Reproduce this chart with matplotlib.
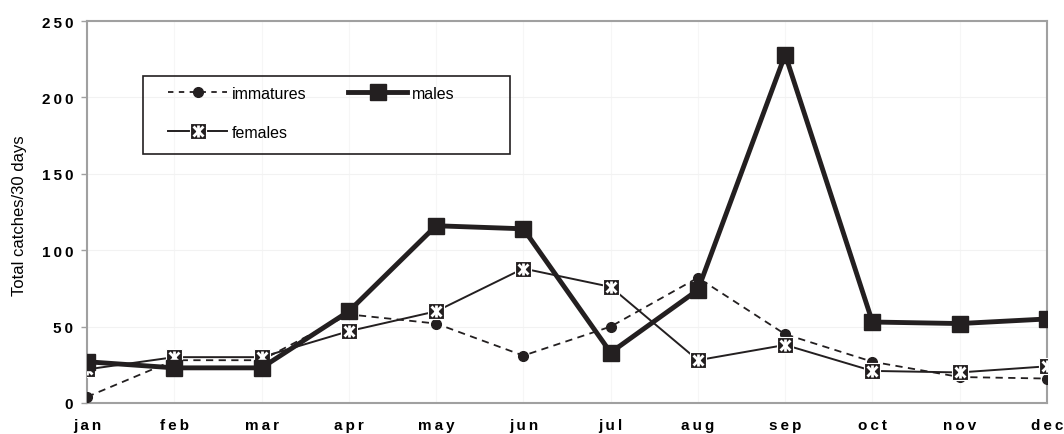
import numpy as np
import matplotlib.pyplot as plt
from matplotlib.lines import Line2D
from matplotlib.patches import Rectangle

# datos
months = ["jan", "feb", "mar", "apr", "may", "jun", "jul", "aug", "sep", "oct", "nov", "dec"]
immatures = [4, 28, 28, 58, 52, 31, 50, 82, 45, 27, 17, 16]
males = [27, 23, 23, 60, 116, 114, 33, 74, 228, 53, 52, 55]
females = [22, 30, 30, 47, 60, 88, 76, 28, 38, 21, 20, 24]
yticks = [0, 50, 100, 150, 200, 250]

ink = "#231f20"
plt.rcParams['font.family'] = ['Liberation Sans', 'DejaVu Sans']

def spaced(s):
    # espaciado entre letras como en la figura original
    return "\u2009".join(s)

fig = plt.figure(figsize=(10.64, 4.35), dpi=100)
ax = fig.add_axes([87/1064, 1-404/435, (1047-87)/1064, (404-22)/435])

x = np.arange(len(months))

ax.plot(x, immatures, ls=(0, (4, 3)), lw=1.3, color=ink, marker="o", ms=7, zorder=3)
ax.plot(x, females, ls="-", lw=1.4, color=ink, marker="s", ms=11, mfc=ink, mec="white", mew=0.8, zorder=4)
ax.plot(x, females, ls="none", marker="x", ms=7, mew=2, color="white", zorder=5)
ax.plot(x, females, ls="none", marker="|", ms=8, mew=2, color="white", zorder=5)
ax.plot(x, males, ls="-", lw=3.5, color=ink, marker="s", ms=12, zorder=6)

ax.set_xlim(0, 11)
ax.set_ylim(0, 250)
ax.set_yticks(yticks)
ax.set_yticklabels([spaced(str(v)) for v in yticks], fontsize=11, fontweight="bold")
ax.set_xticks(x)
ax.set_xticklabels([spaced(m) for m in months], fontsize=11, fontweight="bold")
ax.tick_params(axis="y", length=4, width=1, color="#a0a0a0", pad=6)
ax.tick_params(axis="x", length=0, pad=11)
ax.grid(axis="y", color="#f2f2f2", lw=0.8)
ax.grid(axis="x", color="#f6f6f6", lw=0.8)
ax.set_axisbelow(True)
for s in ax.spines.values():
    s.set_color("#a0a0a0")
    s.set_linewidth(1.5)

fig.text(20/1064, 1-216/435, "Total catches/30 days", rotation=90, fontsize=12,
         ha="center", va="center")

# leyenda con marcadores compuestos
h_imm = Line2D([], [], ls=(0, (3, 3)), lw=1.3, color=ink, marker="o", ms=7)
h_fem = (Line2D([], [], ls="-", lw=1.4, color=ink, marker="s", ms=11, mfc=ink, mec="white", mew=0.8),
         Line2D([], [], ls="none", marker="x", ms=7, mew=2, color="white"),
         Line2D([], [], ls="none", marker="|", ms=8, mew=2, color="white"))
h_mal = Line2D([], [], ls="-", lw=3.5, color=ink, marker="s", ms=12)

leg = fig.legend([h_imm, h_fem, h_mal], ["immatures", "females", "males"], ncol=2,
                 loc="center left", bbox_to_anchor=(160/1064, 1-114/435),
                 bbox_transform=fig.transFigure, frameon=False, fontsize=11.5,
                 handlelength=3.7, handletextpad=0.3, labelspacing=1.5,
                 borderpad=0, columnspacing=2.6)

fig.patches.append(Rectangle((143/1064, 1-155/435), 367/1064, 78/435,
                             transform=fig.transFigure, fill=False, ec=ink, lw=1.2))

plt.savefig("out.png", dpi=100)
